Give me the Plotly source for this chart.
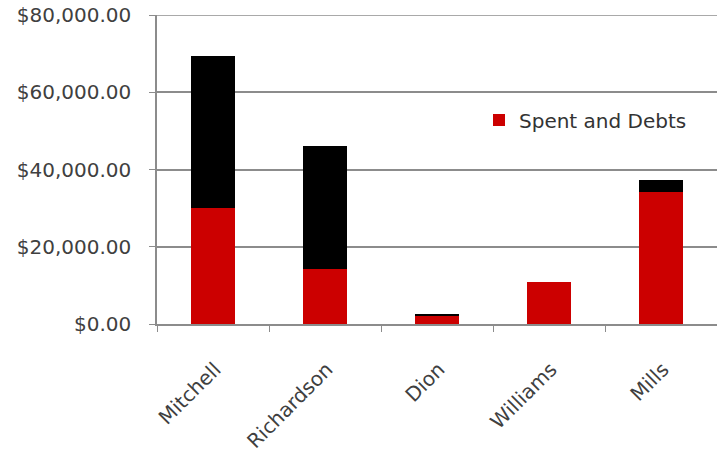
import plotly.graph_objects as go

# Category names and amounts per person
people = ["Mitchell", "Richardson", "Dion", "Williams", "Mills"]
spent_and_debts = [30000, 14200, 2200, 10900, 34200]
remaining = [39400, 31900, 500, 0, 3100]

y_ticks = [0, 20000, 40000, 60000, 80000]
y_tick_text = ["${:,.2f}".format(v) for v in y_ticks]

fig = go.Figure()
fig.add_trace(go.Bar(
    x=people, y=spent_and_debts, name="Spent and Debts",
    marker=dict(color="#CC0000", line=dict(width=0)),
))
fig.add_trace(go.Bar(
    x=people, y=remaining, name="Remaining", showlegend=False,
    marker=dict(color="#000000", line=dict(width=0)),
))

grid_color = "#8c8c8c"
font_family = "DejaVu Sans"
fig.update_layout(
    barmode="stack",
    bargap=0.61,
    width=717, height=454,
    margin=dict(l=157, r=0, t=15, b=130),
    paper_bgcolor="white", plot_bgcolor="white",
    font=dict(family=font_family, size=18, color="#404040"),
    showlegend=True,
    legend=dict(
        x=0.575, y=0.66, xanchor="left", yanchor="middle",
        bgcolor="rgba(0,0,0,0)",
        font=dict(family=font_family, size=20, color="#333333"),
        itemsizing="constant",
    ),
    # top gridline at the upper range limit
    shapes=[dict(
        type="line", xref="paper", yref="y",
        x0=0, x1=1, y0=y_ticks[-1], y1=y_ticks[-1],
        line=dict(color=grid_color, width=1.5),
    )],
)
fig.update_xaxes(
    range=[-0.5, 4.5],
    showgrid=False,
    showline=True, linecolor=grid_color, linewidth=1.5,
    ticks="outside", tickson="boundaries", ticklen=6, tickcolor=grid_color,
    tickangle=-45,
    ticklabelstandoff=24, ticklabelshift=2,
    tickfont=dict(family=font_family, size=20, color="#404040"),
)
fig.update_yaxes(
    range=[0, y_ticks[-1]],
    tickvals=y_ticks, ticktext=y_tick_text,
    showgrid=True, gridcolor=grid_color, gridwidth=1.5,
    showline=True, linecolor=grid_color, linewidth=1.5,
    ticks="outside", ticklen=6, tickcolor=grid_color,
    ticklabelstandoff=14,
    zeroline=False,
    tickfont=dict(family=font_family, size=20, color="#404040"),
)

fig.write_html("out.html")
